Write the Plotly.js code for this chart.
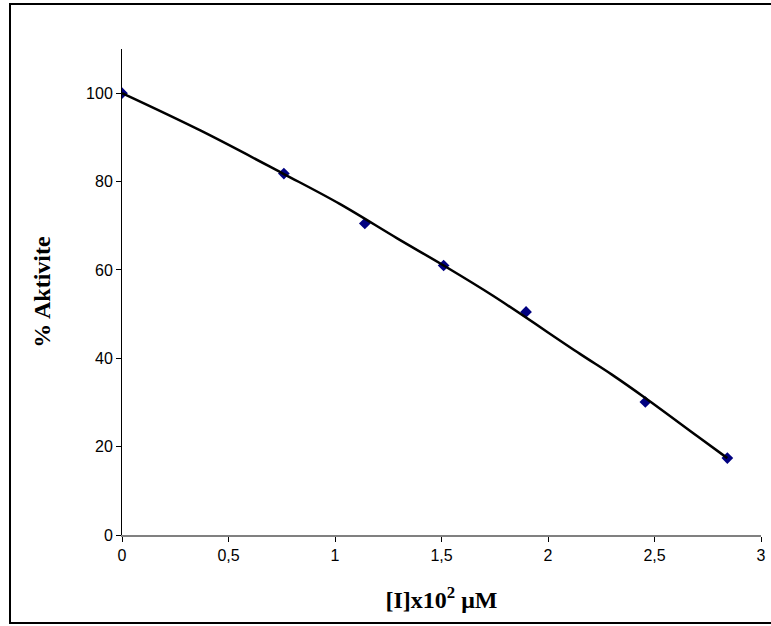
<!DOCTYPE html>
<html>
<head>
<meta charset="utf-8">
<script src="https://cdn.plot.ly/plotly-3.0.1.min.js"></script>
<style>
  html, body { margin: 0; padding: 0; background: #fff; overflow: hidden; }
  #chart { width: 771px; height: 626px; }
  #frame { position: absolute; left: 9px; top: 3px; width: 780px; height: 621px;
           border: 2px solid #000; box-sizing: border-box; pointer-events: none; }
</style>
</head>
<body>
<div id="chart"></div>
<div id="frame"></div>
<script>
// Measured data points
const concX = [0, 0.76, 1.14, 1.51, 1.897, 2.457, 2.842];
const activity = [100, 81.8, 70.5, 61.0, 50.5, 30.1, 17.4];

// Trend curve
const trendX = [0, 0.37, 0.76, 1.02, 1.29, 1.51, 1.74, 2.15, 2.30, 2.46, 2.70, 2.842];
const trendY = [100, 91.5, 81.7, 75.0, 67.2, 61.0, 54.2, 41.0, 36.3, 30.9, 22.4, 17.4];

const xTickVals = [0, 0.5, 1, 1.5, 2, 2.5, 3];
const xTickText = ['0', '0,5', '1', '1,5', '2', '2,5', '3'];
const yTickVals = [0, 20, 40, 60, 80, 100];

const traces = [
  {
    x: concX, y: activity, type: 'scatter', mode: 'markers',
    marker: { symbol: 'diamond', size: 9, color: '#000080' },
    hoverinfo: 'x+y'
  },
  {
    x: trendX, y: trendY, type: 'scatter', mode: 'lines',
    line: { color: '#000', width: 2.5, shape: 'spline', smoothing: 1 },
    hoverinfo: 'skip'
  }
];

const layout = {
  width: 771, height: 626,
  margin: { l: 122, r: 10, t: 49, b: 91 },
  paper_bgcolor: '#fff', plot_bgcolor: '#fff',
  showlegend: false,
  font: { family: 'Liberation Sans, Arial, sans-serif', size: 16, color: '#000' },
  xaxis: {
    range: [0, 3], tickvals: xTickVals, ticktext: xTickText,
    showgrid: false, zeroline: false,
    showline: true, linecolor: '#808080', linewidth: 1.5,
    ticks: 'outside', ticklen: 5, tickcolor: '#000', tickwidth: 1,
    tickfont: { size: 16 },
    title: { text: '[I]x10<sup>2</sup> μM', standoff: 28,
             font: { family: 'Liberation Serif, Times New Roman, serif', size: 24, color: '#000', weight: 'bold' } }
  },
  yaxis: {
    range: [0, 110], tickvals: yTickVals,
    showgrid: false, zeroline: false,
    showline: true, linecolor: '#000', linewidth: 1,
    ticks: 'outside', ticklen: 5, tickcolor: '#000', tickwidth: 1,
    tickfont: { size: 16 },
    title: { text: '% Aktivite', standoff: 28,
             font: { family: 'Liberation Serif, Times New Roman, serif', size: 24, color: '#000', weight: 'bold' } }
  }
};

Plotly.newPlot('chart', traces, layout, { displayModeBar: false, staticPlot: true });
</script>
</body>
</html>
